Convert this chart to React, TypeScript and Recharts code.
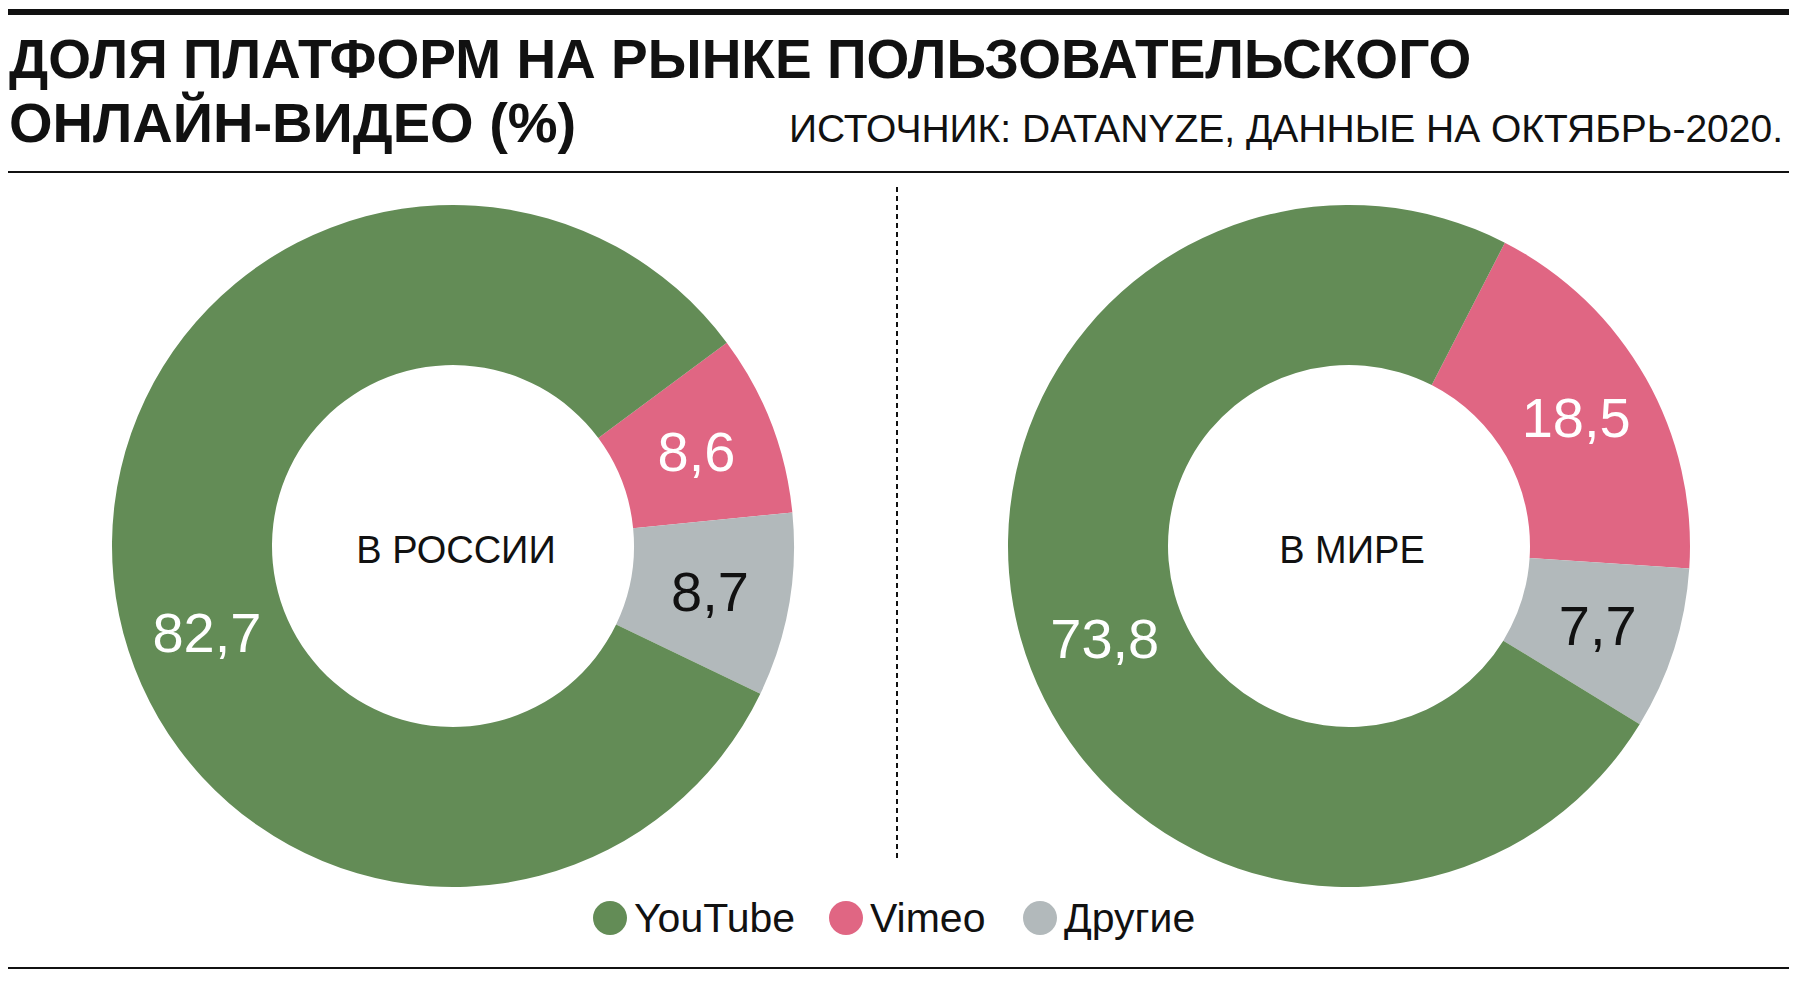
import React from "react";
import { PieChart, Pie, Cell, Label } from "recharts";

const platforms = ["YouTube", "Vimeo", "Другие"];
const russiaValues = [82.7, 8.6, 8.7];
const worldValues = [73.8, 18.5, 7.7];
const regionTitles = ["В РОССИИ", "В МИРЕ"];
const colors = ["#638c56", "#e06683", "#b2b9bb"];
const labelColors = ["#ffffff", "#ffffff", "#111111"];

const FONT = '"Liberation Sans", Arial, sans-serif';
const RADIAN = Math.PI / 180;
// slices are drawn clockwise: Vimeo, Другие, YouTube
const drawOrder = [1, 2, 0];

const buildData = (values: number[]) =>
  drawOrder.map((i) => ({
    name: platforms[i],
    value: values[i],
    fill: colors[i],
    labelFill: labelColors[i],
  }));

const makeLabel = (data: any[], bigShift: number) => (props: any) => {
  const { cx, cy, midAngle, innerRadius, outerRadius, index } = props;
  const d = data[index];
  const angle = midAngle + (d.name === "YouTube" ? bigShift : 0);
  const r = (innerRadius + outerRadius) / 2;
  const x = cx + r * Math.cos(-angle * RADIAN);
  const y = cy + r * Math.sin(-angle * RADIAN);
  return (
    <text
      x={x}
      y={y}
      fill={d.labelFill}
      textAnchor="middle"
      dominantBaseline="central"
      fontSize={56}
      fontFamily={FONT}
    >
      {String(d.value).replace(".", ",")}
    </text>
  );
};

const Donut = ({
  values,
  title,
  startAngle,
  bigShift,
  left,
}: {
  values: number[];
  title: string;
  startAngle: number;
  bigShift: number;
  left: number;
}) => {
  const data = buildData(values);
  return (
    <div style={{ position: "absolute", left, top: 161 }}>
      <PieChart width={760} height={760}>
        <Pie
          data={data}
          dataKey="value"
          nameKey="name"
          cx={380}
          cy={380}
          innerRadius={181}
          outerRadius={341}
          startAngle={startAngle}
          endAngle={startAngle - 360}
          stroke="none"
          labelLine={false}
          label={makeLabel(data, bigShift)}
          isAnimationActive={false}
        >
          {data.map((d) => (
            <Cell key={d.name} fill={d.fill} />
          ))}
          <Label
            value={title}
            position="center"
            fill="#111"
            fontSize={38}
            fontFamily={FONT}
            dx={8}
            dy={9}
          />
        </Pie>
      </PieChart>
    </div>
  );
};

const legendX = [610, 846, 1040];

export default function App() {
  return (
    <div
      style={{
        position: "absolute",
        left: 0,
        top: 0,
        width: 1800,
        height: 982,
        background: "#fff",
        fontFamily: FONT,
      }}
    >
      <svg
        width={1800}
        height={982}
        style={{ position: "absolute", left: 0, top: 0 }}
      >
        <rect x={8} y={9} width={1781} height={6} fill="#111" />
        <text x={9} y={78} fontSize={55} fontWeight="bold" fill="#111">
          ДОЛЯ ПЛАТФОРМ НА РЫНКЕ ПОЛЬЗОВАТЕЛЬСКОГО
        </text>
        <text x={9} y={142} fontSize={56} fontWeight="bold" fill="#111">
          ОНЛАЙН-ВИДЕО (%)
        </text>
        <text
          x={1783}
          y={142}
          fontSize={39}
          textAnchor="end"
          fill="#111"
        >
          ИСТОЧНИК: DATANYZE, ДАННЫЕ НА ОКТЯБРЬ-2020.
        </text>
        <rect x={8} y={171} width={1781} height={2} fill="#111" />
        <line
          x1={897}
          y1={187}
          x2={897}
          y2={860}
          stroke="#111"
          strokeWidth={2}
          strokeDasharray="5 4"
        />
        {platforms.map((p, i) => (
          <g key={p}>
            <circle cx={legendX[i]} cy={918} r={17} fill={colors[i]} />
            <text x={legendX[i] + 24} y={932} fontSize={41} fill="#111">
              {p}
            </text>
          </g>
        ))}
        <rect x={8} y={967} width={1781} height={2} fill="#111" />
      </svg>
      <Donut
        values={russiaValues}
        title={regionTitles[0]}
        startAngle={36.6}
        bigShift={14}
        left={68}
      />
      <Donut
        values={worldValues}
        title={regionTitles[1]}
        startAngle={62.8}
        bigShift={5}
        left={964}
      />
    </div>
  );
}
